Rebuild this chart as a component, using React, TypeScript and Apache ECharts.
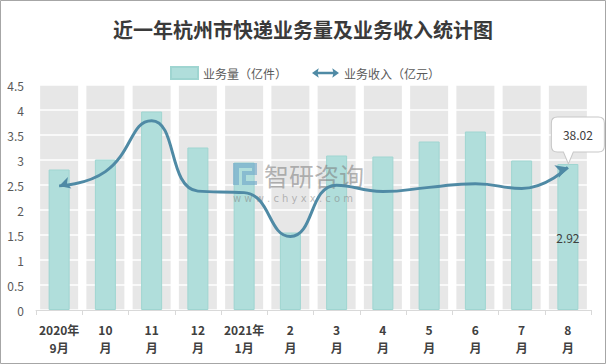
import React, { useEffect, useRef } from "react";
import * as echarts from "echarts";

const title = "近一年杭州市快递业务量及业务收入统计图";
const categories = [
  "2020年\n9月", "10\n月", "11\n月", "12\n月", "2021年\n1月", "2\n月",
  "3\n月", "4\n月", "5\n月", "6\n月", "7\n月", "8\n月",
];
const volumeName = "业务量（亿件）";
const revenueName = "业务收入（亿元）";
const volume = [2.81, 3.01, 3.97, 3.25, 2.95, 1.55, 3.09, 3.07, 3.37, 3.57, 2.99, 2.92];
const revenue = [33.1, 36.9, 50.5, 31.7, 31.3, 19.6, 33.3, 31.6, 32.7, 33.7, 32.4, 38.02];
const yMin = 0;
const yMax = 4.5;
const yInterval = 0.5;
const y2Max = 60;

const FONT = "'Noto Sans CJK SC', 'Noto Sans', sans-serif";
const TEAL = "#b0dedb";
const TEAL_BORDER = "#9fd5d1";
const LINE = "#4f8aa5";
const GRAY = "#e7e7e7";

export default function App() {
  const ref = useRef<HTMLDivElement>(null);
  useEffect(() => {
    document.body.style.margin = "0";
    if (!ref.current) return;
    const chart = echarts.init(ref.current, null, { renderer: "svg" });
    const last = categories.length - 1;
    const bg = categories.map(() => yMax);
    const calloutPath =
      "path://M6 0 L47 0 Q53 0 53 6 L53 29 Q53 35 47 35 L22 35 L17 47 L12 35 L6 35 Q0 35 0 29 L0 6 Q0 0 6 0 Z";
    const logoFill = "rgba(110,165,200,0.6)";
    const logoRect = (x: number, y: number, w: number, h: number) => ({
      type: "rect",
      z: 4,
      shape: { x, y, width: w, height: h },
      style: { fill: logoFill },
    });
    const option: any = {
      animation: false,
      backgroundColor: "#ffffff",
      title: {
        text: title,
        left: "center",
        top: 14,
        textStyle: { fontFamily: FONT, fontSize: 20, fontWeight: "bold", color: "#3a3a3a" },
      },
      legend: {
        top: 61,
        left: 165,
        itemGap: 25,
        itemWidth: 27,
        itemHeight: 12,
        textStyle: { fontFamily: FONT, fontSize: 12, color: "#595959" },
        data: [
          { name: volumeName, icon: "rect" },
          {
            name: revenueName,
            icon: "path://M0 5 L7 0 L6 3.6 L22 3.6 L21 0 L28 5 L21 10 L22 6.4 L6 6.4 L7 10 Z",
          },
        ],
      },
      grid: { left: 36, right: 15, top: 85, bottom: 54, containLabel: false },
      xAxis: [
        {
          type: "category",
          data: categories,
          z: 6,
          axisLine: { lineStyle: { color: "#d9d9d9", width: 1 } },
          axisTick: { show: true, length: 5, lineStyle: { color: "#d9d9d9" } },
          axisLabel: {
            interval: 0,
            margin: 10,
            fontFamily: FONT,
            fontSize: 12,
            fontWeight: "bold",
            color: "#404040",
            lineHeight: 18,
          },
        },
        { type: "category", data: categories, show: false },
      ],
      yAxis: [
        {
          type: "value",
          min: yMin,
          max: yMax,
          interval: yInterval,
          z: 2,
          axisLine: { show: false },
          axisTick: { show: false },
          axisLabel: { margin: 12, fontFamily: FONT, fontSize: 12, color: "#595959" },
          splitLine: { show: true, lineStyle: { color: "#ffffff", width: 1.5 } },
        },
        { type: "value", min: 0, max: y2Max, show: false, splitLine: { show: false } },
      ],
      graphic: {
        elements: [
          {
            type: "group",
            x: 233,
            y: 163,
            z: 4,
            children: [
              logoRect(0, 0, 24, 5),
              logoRect(0, 5, 6, 17),
              logoRect(9, 8, 15, 4),
              logoRect(9, 12, 4, 6),
              logoRect(9, 18, 15, 4),
              logoRect(19, 5, 5, 3),
              {
                type: "text",
                z: 4,
                x: 31,
                y: -1,
                style: {
                  text: "智研咨询",
                  font: "25px 'Noto Sans CJK SC', sans-serif",
                  lineHeight: 25,
                  fill: "rgba(120,120,120,0.55)",
                },
              },
              {
                type: "text",
                z: 4,
                x: 0,
                y: 30,
                style: {
                  text: "w w w . c h y x x . c o m",
                  font: "10px 'DejaVu Sans', sans-serif",
                  fill: "rgba(130,130,130,0.55)",
                },
              },
            ],
          },
          {
            type: "rect",
            x: 0,
            y: 0,
            z: 20,
            silent: true,
            shape: { x: 0.5, y: 0.5, width: 605, height: 363 },
            style: { fill: "none", stroke: "#a6a6a6", lineWidth: 1 },
          },
        ],
      },
      series: [
        {
          name: "bg",
          type: "bar",
          xAxisIndex: 1,
          yAxisIndex: 0,
          data: bg,
          barWidth: 38,
          silent: true,
          z: 1,
          itemStyle: { color: GRAY },
        },
        {
          name: volumeName,
          type: "bar",
          xAxisIndex: 0,
          yAxisIndex: 0,
          barWidth: 21,
          z: 3,
          itemStyle: { color: TEAL, borderColor: TEAL_BORDER, borderWidth: 1 },
          data: volume.map((v, i) =>
            i === last
              ? {
                  value: v,
                  label: {
                    show: true,
                    position: "inside",
                    fontFamily: FONT,
                    fontSize: 12,
                    color: "#404040",
                  },
                }
              : v
          ),
        },
        {
          name: revenueName,
          type: "line",
          xAxisIndex: 0,
          yAxisIndex: 1,
          smooth: 0.5,
          z: 5,
          symbol: "none",
          showSymbol: true,
          lineStyle: { color: LINE, width: 3 },
          itemStyle: { color: LINE },
          data: revenue.map((v, i) =>
            i === 0
              ? { value: v, symbol: "arrow", symbolSize: [9, 11], symbolRotate: 107 }
              : i === last
              ? { value: v, symbol: "arrow", symbolSize: [10, 12], symbolRotate: -70 }
              : v
          ),
          markPoint: {
            silent: true,
            symbol: calloutPath,
            symbolSize: [53, 47],
            symbolOffset: [10, -27],
            itemStyle: { color: "#ffffff", borderColor: "#c8c8c8", borderWidth: 1 },
            label: {
              show: true,
              position: "inside",
              offset: [0, -6],
              formatter: "{c}",
              fontFamily: FONT,
              fontSize: 12,
              color: "#404040",
            },
            data: [{ coord: [last, revenue[last]], value: revenue[last] }],
          },
        },
      ],
    };
    chart.setOption(option);
    return () => chart.dispose();
  }, []);
  return (
    <div style={{ position: "fixed", left: 0, top: 0, width: 606, height: 364 }}>
      <div ref={ref} style={{ width: 606, height: 364 }} />
    </div>
  );
}
